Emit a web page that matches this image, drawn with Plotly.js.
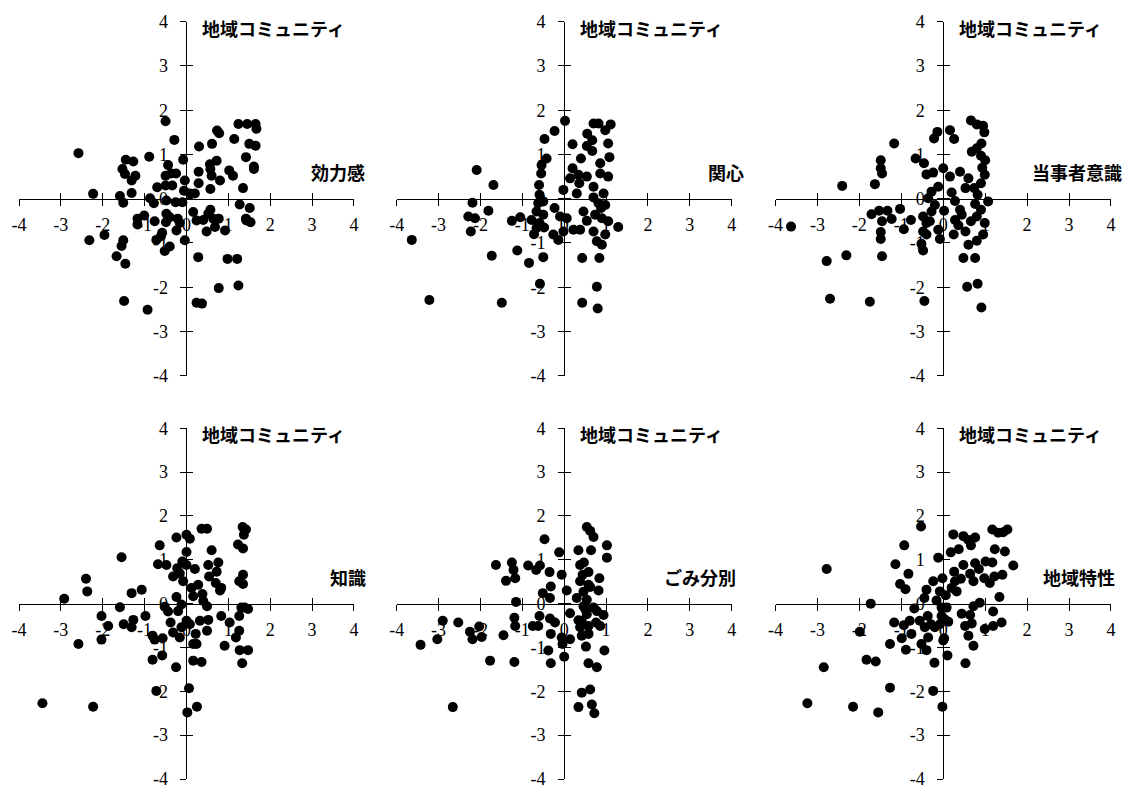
<!DOCTYPE html>
<html>
<head>
<meta charset="utf-8">
<script src="https://cdn.plot.ly/plotly-3.0.1.min.js"></script>
<style>html,body{margin:0;padding:0;background:#fff;}#chart{width:1133px;height:790px;}</style>
</head>
<body>
<div id="chart"></div>
<script>
// ---- data ----
const yTitle = "地域コミュニティ";
const xTitles = ["効力感", "関心", "当事者意識", "知識", "ごみ分別", "地域特性"];
const tickVals = [-4, -3, -2, -1, 0, 1, 2, 3, 4];
const tickText = ["-4", "-3", "-2", "-1", "0", "1", "2", "3", "4"];

// [x, y] pairs: x = factor score, y = 地域コミュニティ
const efficacy = [[-2.58,1.03],[-2.23,0.11],[-2.32,-0.94],[-1.96,-0.82],[-1.59,0.06],[-1.51,-0.09],[-1.53,0.67],[-1.47,0.56],[-1.45,0.88],[-1.27,0.84],[-1.31,0.41],[-1.22,0.52],[-1.31,0.13],[-1.51,-0.94],[-1.55,-1.07],[-1.67,-1.30],[-1.46,-1.47],[-1.49,-2.31],[-0.93,-2.51],[-1.17,-0.45],[-1.01,-0.38],[-1.17,-0.58],[-0.89,0.95],[-0.87,0.01],[-0.78,-0.10],[-0.76,-0.51],[-0.70,0.26],[-0.50,1.75],[-0.29,1.33],[-0.44,0.76],[-0.50,0.52],[-0.37,0.57],[-0.25,0.57],[-0.50,0.30],[-0.34,0.30],[-0.08,0.88],[-0.04,0.41],[-0.06,0.18],[0.08,0.12],[0.20,0.12],[-0.48,-0.04],[-0.26,-0.08],[-0.10,-0.08],[-0.48,-0.34],[-0.40,-0.42],[-0.49,-0.53],[-0.21,-0.45],[-0.16,-0.55],[-0.24,-0.72],[-0.58,-0.77],[-0.72,-0.93],[-0.61,-0.85],[-0.40,-1.08],[-0.52,-1.18],[-0.04,-0.94],[0.28,-1.32],[0.16,-0.30],[0.24,-0.49],[0.40,-0.48],[0.52,-0.34],[0.57,-0.25],[0.64,-0.45],[0.48,-0.74],[0.68,-0.64],[0.77,-0.45],[0.92,-0.72],[0.24,-2.35],[0.37,-2.37],[0.77,-2.02],[0.98,-1.36],[1.21,-1.36],[1.24,-1.96],[0.29,0.35],[0.29,0.61],[0.30,1.18],[0.57,0.67],[0.60,0.52],[0.57,0.22],[0.56,0.78],[0.72,0.86],[0.80,0.41],[0.61,1.24],[0.73,1.54],[0.78,1.48],[1.02,0.64],[1.11,0.52],[1.14,1.35],[1.24,1.69],[1.45,1.69],[1.65,1.69],[1.67,1.58],[1.50,1.24],[1.65,1.20],[1.42,0.94],[1.61,0.67],[1.35,0.24],[1.27,-0.13],[1.51,-0.21],[1.42,-0.45],[1.53,-0.53],[1.61,0.73],[1.43,-0.49]];

const concern = [[-3.64,-0.93],[-3.22,-2.29],[-2.09,0.65],[-1.69,0.31],[-2.19,-0.09],[-2.29,-0.40],[-2.13,-0.44],[-2.23,-0.74],[-1.81,-0.27],[-1.73,-1.29],[-1.49,-2.35],[-1.25,-0.50],[-1.05,-0.42],[-1.12,-1.17],[-0.84,-1.45],[-0.72,-0.80],[-0.78,-0.48],[-0.50,-1.32],[-0.58,-1.92],[-0.47,1.35],[-0.23,1.53],[0.02,1.76],[-0.42,0.91],[-0.54,0.76],[-0.55,0.57],[-0.60,0.31],[-0.59,0.09],[-0.62,-0.10],[-0.66,-0.29],[-0.50,-0.36],[-0.59,-0.55],[-0.48,-0.65],[-0.23,-0.21],[-0.10,-0.40],[0.06,-0.44],[-0.26,-0.81],[-0.14,-0.93],[-0.02,-0.74],[-0.02,0.20],[0.20,1.23],[0.14,0.46],[0.20,0.69],[0.34,0.54],[0.36,0.35],[0.30,0.12],[0.40,0.91],[0.54,0.50],[0.22,-0.70],[0.38,-0.70],[0.46,-0.29],[0.54,-0.50],[0.43,-1.34],[0.43,-2.35],[0.54,1.19],[0.55,1.47],[0.67,1.32],[0.67,1.08],[0.70,1.70],[0.82,1.70],[0.98,1.55],[1.11,1.68],[1.05,1.25],[1.08,0.94],[0.86,0.80],[0.86,0.57],[1.05,0.50],[0.70,0.27],[0.70,0.03],[0.82,-0.10],[0.94,0.12],[0.98,-0.14],[0.74,-0.36],[0.90,-0.44],[1.05,-0.51],[0.70,-0.74],[0.78,-0.96],[0.90,-1.04],[0.98,-0.81],[0.84,-1.34],[0.78,-1.99],[0.80,-2.48],[1.29,-0.64],[0.88,-0.21],[-0.66,-0.66],[-0.50,-0.06]];

const ownership = [[-3.63,-0.63],[-2.41,0.29],[-2.78,-1.41],[-2.31,-1.28],[-2.70,-2.26],[-1.75,-2.33],[-1.63,0.33],[-1.49,0.87],[-1.49,0.69],[-1.46,0.57],[-1.17,1.25],[-1.71,-0.35],[-1.53,-0.27],[-1.46,-0.51],[-1.33,-0.27],[-1.23,-0.46],[-1.49,-0.75],[-1.49,-0.91],[-1.46,-1.30],[-1.03,-0.23],[-0.94,-0.69],[-0.77,-0.48],[-0.66,0.91],[-0.46,0.80],[-0.40,0.55],[-0.24,0.59],[-0.12,0.27],[-0.28,0.16],[-0.36,0.01],[-0.48,-0.40],[-0.40,-0.55],[-0.48,-0.74],[-0.52,-1.02],[-0.48,-1.17],[-0.32,-0.51],[-0.28,-0.29],[-0.20,-0.14],[-0.22,1.36],[-0.14,1.51],[0.00,0.69],[0.16,1.55],[0.26,1.35],[0.16,0.50],[0.40,0.61],[0.20,0.14],[0.28,-0.05],[0.02,-0.27],[-0.12,-0.70],[-0.08,-0.91],[-0.45,-2.31],[0.28,-0.48],[0.44,-0.36],[0.36,-0.60],[0.25,-0.81],[0.53,-0.74],[0.60,-1.04],[0.48,-1.34],[0.57,-1.99],[0.60,0.46],[0.53,0.24],[0.66,1.77],[0.80,1.68],[0.95,1.65],[0.98,1.50],[0.91,1.25],[0.80,1.14],[0.68,1.06],[0.90,0.97],[1.00,0.87],[0.93,0.70],[0.99,0.54],[0.90,0.35],[0.74,0.24],[0.82,0.09],[1.07,-0.06],[0.76,-0.12],[0.90,-0.25],[0.80,-0.40],[0.99,-0.55],[0.66,-0.51],[0.95,-0.81],[0.80,-0.95],[0.76,-1.34],[0.82,-1.92],[0.91,-2.46],[-0.40,-0.81],[0.40,-0.25]];

const knowledge = [[-3.44,-2.27],[-2.23,-2.35],[-2.92,0.11],[-2.40,0.57],[-2.37,0.28],[-2.58,-0.92],[-2.03,-0.28],[-1.87,-0.51],[-2.03,-0.82],[-1.55,1.06],[-1.59,-0.08],[-1.50,-0.47],[-1.31,0.24],[-1.27,-0.37],[-1.31,-0.54],[-1.07,0.32],[-0.98,-0.28],[-0.81,-0.73],[-0.76,-0.82],[-0.57,-0.79],[-0.58,-1.18],[-0.81,-1.28],[-0.25,-1.45],[-0.72,-1.99],[-0.64,1.33],[-0.68,0.90],[-0.48,0.88],[-0.24,1.51],[0.00,1.57],[0.08,1.48],[0.00,1.18],[0.36,1.71],[0.49,1.71],[-0.32,0.62],[-0.22,0.81],[-0.16,0.69],[-0.10,0.96],[-0.08,0.51],[0.00,0.88],[0.20,0.79],[0.12,0.36],[0.16,0.17],[0.28,0.43],[0.52,0.88],[0.54,0.62],[0.60,1.22],[0.76,0.94],[0.72,0.73],[0.70,0.47],[0.83,0.36],[0.80,0.30],[0.38,0.22],[0.40,0.06],[0.49,-0.06],[-0.24,0.15],[-0.12,-0.02],[-0.52,-0.07],[-0.44,-0.18],[-0.20,-0.17],[-0.38,-0.43],[-0.32,-0.66],[-0.16,-0.77],[-0.12,-0.54],[0.00,-0.39],[0.08,-0.47],[0.22,-0.69],[0.16,-0.92],[0.24,-0.92],[0.16,-1.30],[0.36,-1.33],[0.32,-0.39],[0.52,-0.37],[0.49,-0.62],[0.06,-1.93],[0.02,-2.48],[0.25,-2.35],[0.83,-0.28],[1.03,-0.43],[0.91,-0.96],[1.18,-0.77],[1.26,-0.62],[1.26,-0.28],[1.31,-0.09],[1.47,-0.12],[1.27,-1.06],[1.47,-1.06],[1.33,-1.36],[1.23,1.35],[1.35,1.26],[1.34,1.75],[1.42,1.69],[1.37,1.57],[1.35,0.66],[1.26,0.51],[1.35,0.45],[1.39,-0.09]];

const sorting = [[-3.43,-0.94],[-3.03,-0.81],[-2.90,-0.39],[-2.53,-0.43],[-2.66,-2.36],[-2.25,-0.64],[-2.19,-0.81],[-2.03,-0.52],[-1.97,-0.76],[-1.77,-1.30],[-1.63,0.88],[-1.45,-0.72],[-1.39,0.52],[-1.25,0.94],[-1.21,0.77],[-1.17,0.58],[-1.15,0.04],[-1.19,-0.32],[-1.17,-0.51],[-1.19,-1.33],[-0.86,0.87],[-0.67,0.77],[-0.58,0.87],[-0.47,1.47],[-0.35,0.72],[-0.51,0.24],[-0.34,0.13],[-0.32,0.39],[-0.06,0.66],[-0.12,1.17],[0.06,0.30],[-0.75,-0.51],[-0.59,-0.28],[-0.62,-0.51],[-0.34,-0.34],[-0.22,-0.43],[-0.32,-0.69],[-0.38,-1.07],[-0.32,-1.36],[-0.06,-0.77],[-0.04,-0.92],[0.00,-1.21],[0.14,-0.22],[0.14,-0.81],[0.30,0.13],[0.34,1.22],[0.38,0.88],[0.47,0.94],[0.54,1.75],[0.62,1.66],[0.70,1.52],[0.64,1.22],[0.44,0.66],[0.58,0.72],[0.38,0.51],[0.58,0.43],[0.84,0.58],[0.82,0.30],[0.46,0.27],[0.54,0.09],[0.46,-0.06],[0.70,-0.09],[0.54,-0.24],[0.78,-0.17],[0.94,-0.26],[0.42,-0.39],[0.58,-0.51],[0.76,-0.43],[0.42,-0.73],[0.58,-0.69],[0.52,-0.98],[0.58,-1.36],[0.78,-1.45],[0.96,-1.07],[1.02,1.33],[1.02,1.05],[0.42,-2.03],[0.62,-1.96],[0.34,-2.36],[0.66,-2.30],[0.72,-2.50],[0.34,-0.38],[0.38,-0.54],[0.86,-0.51],[0.50,-0.12],[0.62,0.38]];

const regional = [[-3.24,-2.27],[-2.85,-1.45],[-2.78,0.79],[-2.15,-2.35],[-1.99,-0.64],[-1.83,-1.28],[-1.61,-1.32],[-1.55,-2.48],[-1.73,0.00],[-1.27,-1.92],[-1.27,-0.92],[-1.17,-0.43],[-1.14,0.90],[-1.03,0.45],[-0.93,1.33],[-0.90,0.33],[-0.83,0.68],[-0.99,-0.79],[-0.89,-1.05],[-0.94,-0.49],[-0.80,-0.39],[-0.69,-0.11],[-0.76,-0.69],[-0.53,1.76],[-0.45,0.13],[-0.40,0.32],[-0.24,0.51],[-0.56,-0.39],[-0.37,-0.28],[-0.44,-0.54],[-0.52,-0.92],[-0.36,-0.77],[-0.40,-1.06],[-0.29,-0.47],[-0.20,-0.54],[-0.12,1.05],[-0.02,0.58],[-0.08,0.28],[-0.16,0.07],[-0.04,-0.09],[0.08,-0.09],[-0.04,-0.28],[0.04,-0.36],[-0.08,-0.47],[0.12,-0.41],[0.02,-0.79],[-0.21,-1.35],[-0.24,-1.99],[-0.02,-2.35],[0.10,-1.18],[0.06,0.19],[0.20,0.36],[0.28,0.51],[0.18,1.17],[0.24,1.58],[0.37,1.24],[0.26,0.73],[0.32,0.28],[0.42,0.57],[0.48,0.88],[0.64,0.68],[0.72,0.51],[0.76,0.92],[0.85,0.79],[0.98,0.58],[0.48,1.54],[0.60,1.45],[0.66,1.33],[0.76,1.51],[0.44,-0.23],[0.52,-0.51],[0.64,-0.26],[0.68,-0.45],[0.60,-0.73],[0.72,-0.96],[0.53,-1.36],[0.72,-0.06],[0.87,0.02],[0.99,-0.58],[1.01,0.96],[1.17,0.94],[1.11,0.47],[1.22,0.62],[1.41,0.66],[1.19,-0.18],[1.19,-0.51],[1.39,-0.43],[1.34,0.15],[1.17,1.69],[1.31,1.62],[1.43,1.63],[1.53,1.69],[1.23,1.24],[1.47,1.19],[1.67,0.87],[0.00,-0.84]];

const panels = [efficacy, concern, ownership, knowledge, sorting, regional];

// ---- layout geometry ----
const xDomains = [[0.01677, 0.31244], [0.35013, 0.64581], [0.68447, 0.98058]];
const yDomains = [[0.5244, 0.9725], [0.0139, 0.45785]];
const xTitleRight = [4.30, 4.34, 4.31, 4.34, 4.16, 4.14];

const tickFont = {family: "'Liberation Serif', 'Times New Roman', serif", size: 18, color: '#000'};
const cjkFont = {family: "'Noto Sans CJK JP', sans-serif", size: 18, color: '#000'};

const traces = [];
const layout = {
  width: 1133, height: 790,
  margin: {l: 0, r: 0, t: 0, b: 0},
  paper_bgcolor: '#fff', plot_bgcolor: 'rgba(0,0,0,0)',
  showlegend: false,
  annotations: []
};

// convert a data value (range -4..4) into a paper fraction inside a domain
const toPaper = (v, d) => d[0] + (v + 4) / 8 * (d[1] - d[0]);

panels.forEach((pts, i) => {
  const n = i + 1, m = i + 7;
  const row = i < 3 ? 0 : 1, col = i % 3;
  const xd = xDomains[col], yd = yDomains[row];
  const xPos = (yd[0] + yd[1]) / 2, yPos = (xd[0] + xd[1]) / 2;
  const xs = n === 1 ? 'x' : 'x' + n, ys = n === 1 ? 'y' : 'y' + n;
  const xk = n === 1 ? 'xaxis' : 'xaxis' + n, yk = n === 1 ? 'yaxis' : 'yaxis' + n;

  traces.push({
    type: 'scatter', mode: 'markers',
    x: pts.map(p => p[0]), y: pts.map(p => p[1]),
    xaxis: xs, yaxis: ys,
    marker: {color: '#000', size: 10, line: {width: 0}},
    hoverinfo: 'x+y'
  });
  traces.push({type: 'scatter', mode: 'markers', x: [], y: [], xaxis: 'x' + m, yaxis: 'y' + m, hoverinfo: 'skip'});

  const common = {
    range: [-4, 4], anchor: 'free', showgrid: false, zeroline: false,
    tickmode: 'array', tickvals: tickVals, ticktext: tickText,
    tickwidth: 1, tickcolor: '#000', ticklen: 6, fixedrange: true,
    ticklabeloverflow: 'allow'
  };
  layout[xk] = Object.assign({}, common, {
    domain: xd, position: xPos, showline: true, linecolor: '#000', linewidth: 1,
    ticks: 'outside', tickfont: tickFont, ticklabelstandoff: 4
  });
  layout[yk] = Object.assign({}, common, {
    domain: yd, position: yPos, showline: true, linecolor: '#000', linewidth: 1,
    ticks: 'outside', tickfont: tickFont, ticklabelstandoff: 9
  });
  layout['xaxis' + m] = Object.assign({}, common, {
    overlaying: xs, domain: xd, position: xPos, showline: false,
    ticks: 'inside', showticklabels: false
  });
  layout['yaxis' + m] = Object.assign({}, common, {
    overlaying: ys, domain: yd, position: yPos, showline: false,
    ticks: 'inside', showticklabels: false
  });

  layout.annotations.push({
    xref: 'paper', yref: 'paper', x: toPaper(0.32, xd), y: toPaper(3.86, yd),
    xanchor: 'left', yanchor: 'middle',
    text: '<b>' + yTitle + '</b>', showarrow: false, font: cjkFont
  });
  layout.annotations.push({
    xref: 'paper', yref: 'paper', x: toPaper(xTitleRight[i], xd), y: toPaper(0.61, yd),
    xanchor: 'right', yanchor: 'middle',
    text: '<b>' + xTitles[i] + '</b>', showarrow: false, font: cjkFont
  });
});

Plotly.newPlot('chart', traces, layout, {displayModeBar: false, staticPlot: true});
</script>
</body>
</html>
